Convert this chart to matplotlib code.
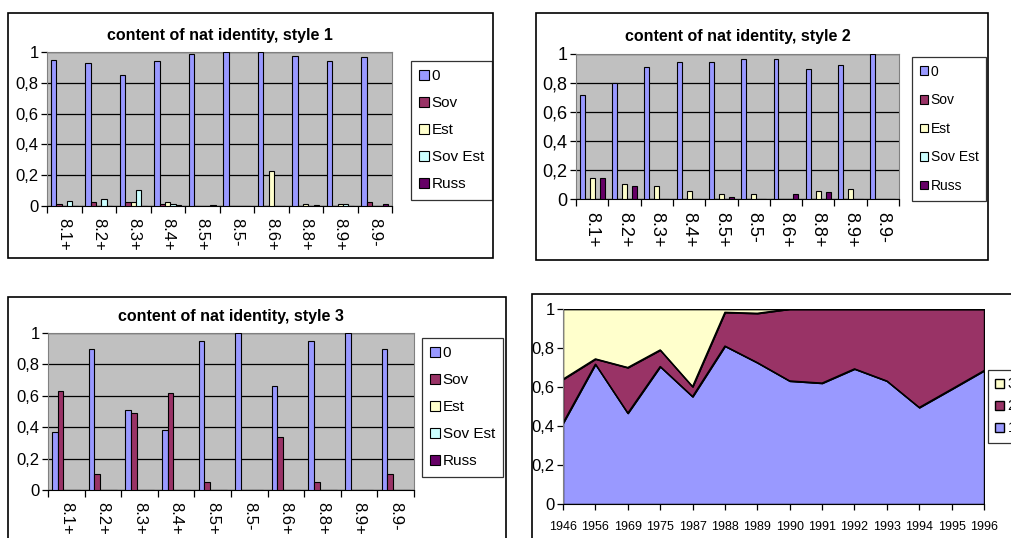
import numpy as np
import matplotlib
matplotlib.use("Agg")
import matplotlib.pyplot as plt
from matplotlib.patches import Rectangle
from matplotlib.ticker import FuncFormatter, FixedLocator

plt.rcParams['font.family'] = ['Liberation Sans', 'DejaVu Sans']

W, H = 1011, 538

categories = ["8.1+", "8.2+", "8.3+", "8.4+", "8.5+", "8.5-", "8.6+", "8.8+", "8.9+", "8.9-"]
series_names = ["0", "Sov", "Est", "Sov Est", "Russ"]
series_colors = ["#9999FF", "#993366", "#FFFFCC", "#CCFFFF", "#660066"]

# style 1
s1_zero = [0.95, 0.93, 0.85, 0.94, 0.99, 1.0, 1.0, 0.975, 0.94, 0.965]
s1_sov = [0.015, 0.025, 0.025, 0.015, 0, 0, 0, 0, 0, 0.025]
s1_est = [0, 0, 0.025, 0.025, 0, 0, 0.225, 0.015, 0.015, 0]
s1_sovest = [0.035, 0.045, 0.105, 0.015, 0, 0, 0, 0, 0.015, 0]
s1_russ = [0, 0, 0, 0.008, 0.008, 0, 0, 0.008, 0, 0.015]

# style 2
s2_zero = [0.72, 0.80, 0.91, 0.945, 0.945, 0.965, 0.965, 0.90, 0.925, 1.0]
s2_sov = [0, 0, 0, 0, 0, 0, 0, 0, 0, 0]
s2_est = [0.145, 0.105, 0.09, 0.055, 0.035, 0.035, 0, 0.055, 0.07, 0]
s2_sovest = [0, 0, 0, 0, 0, 0, 0, 0, 0, 0]
s2_russ = [0.145, 0.09, 0, 0, 0.015, 0, 0.035, 0.045, 0, 0]

# style 3
s3_zero = [0.37, 0.90, 0.51, 0.38, 0.95, 1.0, 0.66, 0.95, 1.0, 0.90]
s3_sov = [0.63, 0.10, 0.49, 0.62, 0.05, 0, 0.34, 0.05, 0, 0.10]
s3_est = [0, 0, 0, 0, 0, 0, 0, 0, 0, 0]
s3_sovest = [0, 0, 0, 0, 0, 0, 0, 0, 0, 0]
s3_russ = [0, 0, 0, 0, 0, 0, 0, 0, 0, 0]

# area chart
years = ["1946", "1956", "1969", "1975", "1987", "1988", "1989", "1990",
         "1991", "1992", "1993", "1994", "1995", "1996"]
area_1 = [0.415, 0.717, 0.466, 0.705, 0.551, 0.81, 0.725, 0.631, 0.62, 0.693, 0.631, 0.495, 0.589, 0.684]
area_2 = [0.225, 0.027, 0.234, 0.085, 0.051, 0.173, 0.253, 0.369, 0.38, 0.307, 0.369, 0.505, 0.411, 0.316]
area_3 = [0.36, 0.256, 0.30, 0.21, 0.398, 0.017, 0.022, 0, 0, 0, 0, 0, 0, 0]
area_names = ["1", "2", "3"]
area_colors = ["#9999FF", "#993366", "#FFFFCC"]


def rect(x0, y0, x1, y1):
    return [x0 / W, 1 - y1 / H, (x1 - x0) / W, (y1 - y0) / H]


comma = FuncFormatter(lambda v, p: ("%g" % round(v, 1)).replace(".", ","))

fig = plt.figure(figsize=(W / 100, H / 100), dpi=100)

# outer chart frames
for x0, y0, x1, y1 in [(8, 13, 493, 258), (536, 13, 988, 260), (8, 297, 506, 545), (532, 294, 1020, 545)]:
    fig.patches.append(Rectangle((x0 / W, 1 - y1 / H), (x1 - x0) / W, (y1 - y0) / H,
                                 transform=fig.transFigure, fill=False, edgecolor="black", lw=1.2))


def bar_panel(box, title, data, leg_box, tick_size=12, leg_size=11, leg_space=0.85):
    ax = fig.add_axes(rect(*box))
    ax.set_facecolor("#C0C0C0")
    x = np.arange(len(categories))
    w = 1 / 6.5
    for i, (vals, name, col) in enumerate(zip(data, series_names, series_colors)):
        ax.bar(x + (i - 2) * w, vals, width=w, color=col, edgecolor="black", lw=0.8, label=name, zorder=3)
    ax.set_xlim(-0.5, len(categories) - 0.5)
    ax.set_ylim(0, 1)
    ax.set_yticks(np.arange(0, 1.01, 0.2))
    ax.yaxis.set_major_formatter(comma)
    ax.grid(axis="y", color="black", lw=0.9, zorder=1)
    ax.set_xticks(x)
    ax.set_xticklabels(categories, rotation=-90, fontsize=tick_size)
    ax.tick_params(axis="x", length=0, pad=9)
    ax.xaxis.set_minor_locator(FixedLocator(np.arange(-0.5, len(categories), 1.0)))
    ax.tick_params(axis="x", which="minor", length=5, width=0.9)
    ax.tick_params(axis="y", length=4, width=0.9, labelsize=tick_size, pad=2)
    for sp in ["top", "right"]:
        ax.spines[sp].set_color("#808080")
    ax.spines["left"].set_color("#808080")
    ax.spines["bottom"].set_color("black")
    ax.set_title(title, fontsize=11.5, fontweight="bold", pad=9)
    lx0, ly0, lx1, ly1 = leg_box
    leg = fig.legend(loc="upper left", bbox_to_anchor=(lx0 / W, 1 - ly0 / H), frameon=True,
                     fontsize=leg_size, handlelength=0.6, handleheight=0.6, handletextpad=0.2,
                     labelspacing=leg_space, borderpad=0.55, fancybox=False, borderaxespad=0,
                     handles=ax.containers, labels=series_names)
    leg.get_frame().set_edgecolor("black")
    leg.get_frame().set_linewidth(0.9)
    return ax


bar_panel((47, 52, 392, 206), "content of nat identity, style 1",
          [s1_zero, s1_sov, s1_est, s1_sovest, s1_russ], (411, 61, 493, 203))
bar_panel((576, 54, 899, 199), "content of nat identity, style 2",
          [s2_zero, s2_sov, s2_est, s2_sovest, s2_russ], (912, 57, 988, 197),
          tick_size=13, leg_size=10, leg_space=1.05)
bar_panel((48, 333, 414, 490), "content of nat identity, style 3",
          [s3_zero, s3_sov, s3_est, s3_sovest, s3_russ], (422, 338, 506, 479))

# area chart
ax4 = fig.add_axes(rect(563, 309, 984, 504))
xs = np.arange(len(years))
polys = ax4.stackplot(xs, area_1, area_2, area_3, colors=area_colors, labels=area_names,
                      edgecolor="black", lw=1.0)
cum = np.cumsum([area_1, area_2, area_3], axis=0)
for c in cum:
    ax4.plot(xs, c, color="black", lw=1.0)
ax4.set_xlim(0, len(years) - 1)
ax4.set_ylim(0, 1)
ax4.set_yticks(np.arange(0, 1.01, 0.2))
ax4.yaxis.set_major_formatter(comma)
ax4.set_xticks(xs)
ax4.set_xticklabels(years, fontsize=9)
ax4.tick_params(axis="x", length=4, width=0.9, pad=8)
ax4.tick_params(axis="y", length=4, width=0.9, labelsize=12, pad=2)
for sp in ["top", "right"]:
    ax4.spines[sp].set_visible(False)
ax4.spines["left"].set_color("#808080")
ax4.spines["bottom"].set_color("black")
leg4 = fig.legend(handles=polys[::-1], labels=area_names[::-1], loc="upper left",
                  bbox_to_anchor=(988 / W, 1 - 370 / H), fontsize=10.5, handlelength=0.6,
                  handleheight=0.6, handletextpad=0.25, labelspacing=0.55, borderpad=0.5,
                  fancybox=False, borderaxespad=0)
leg4.get_frame().set_edgecolor("black")
leg4.get_frame().set_linewidth(0.9)

fig.savefig("out.png", dpi=100)
